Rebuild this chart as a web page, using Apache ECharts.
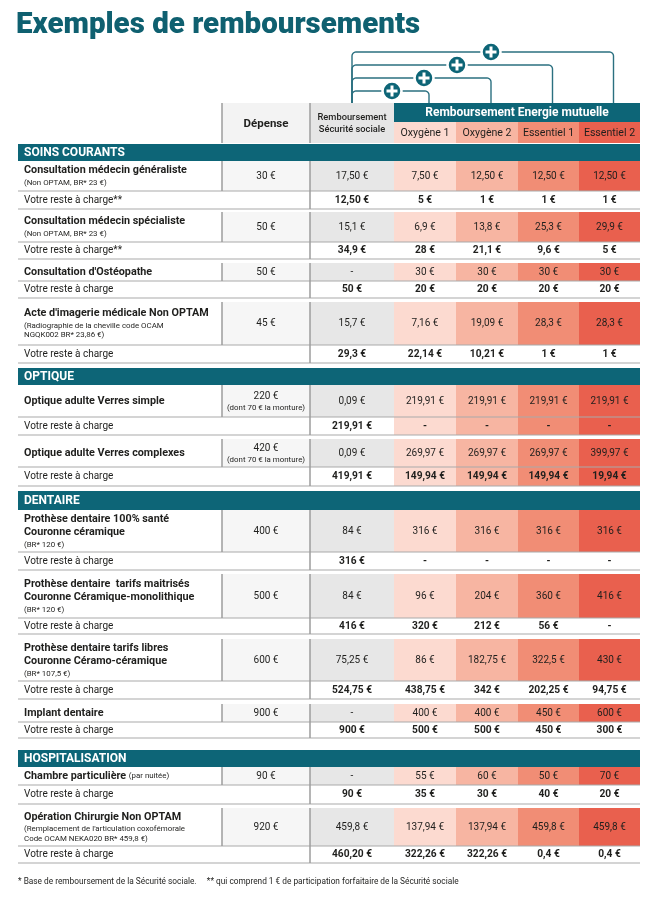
<!DOCTYPE html>
<html><head><meta charset="utf-8">
<script src="https://cdn.jsdelivr.net/npm/echarts@6/dist/echarts.min.js"></script>
<style>html,body{margin:0;padding:0;background:#fff}#c{width:646px;height:900px}</style>
</head><body><div id="c"></div>
<script>
// ---------------- DATA ----------------
const chartTitle = 'Exemples de remboursements';
const headerDepense = 'Dépense';
const headerSecu = ['Remboursement', 'Sécurité sociale'];
const headerMutuelle = 'Remboursement Energie mutuelle';
const planNames = ['Oxygène 1', 'Oxygène 2', 'Essentiel 1', 'Essentiel 2'];
const sectionNames = ['SOINS COURANTS', 'OPTIQUE', 'DENTAIRE', 'HOSPITALISATION'];
const rowSection = [0, 0, 0, 0, 1, 1, 2, 2, 2, 2, 3, 3];
const rowTitles = [
  ['Consultation médecin généraliste'],
  ['Consultation médecin spécialiste'],
  ["Consultation d'Ostéopathe"],
  ["Acte d'imagerie médicale Non OPTAM"],
  ['Optique adulte Verres simple'],
  ['Optique adulte Verres complexes'],
  ['Prothèse dentaire 100% santé', 'Couronne céramique'],
  ['Prothèse dentaire  tarifs maitrisés', 'Couronne Céramique-monolithique'],
  ['Prothèse dentaire tarifs libres', 'Couronne Céramo-céramique'],
  ['Implant dentaire'],
  ['Chambre particulière'],
  ['Opération Chirurgie Non OPTAM']
];
const rowInlineNotes = ['', '', '', '', '', '', '', '', '', '', '(par nuitée)', ''];
const rowNotes = [
  ['(Non OPTAM, BR* 23 €)'],
  ['(Non OPTAM, BR* 23 €)'],
  [],
  ['(Radiographie de la cheville code OCAM', 'NGQK002 BR* 23,86 €)'],
  [], [],
  ['(BR* 120 €)'],
  ['(BR* 120 €)'],
  ['(BR* 107,5 €)'],
  [], [],
  ["(Remplacement de l'articulation coxofémorale", 'Code OCAM NEKA020 BR* 459,8 €)']
];
const depense = ['30 €', '50 €', '50 €', '45 €', '220 €', '420 €', '400 €', '500 €', '600 €', '900 €', '90 €', '920 €'];
const depenseNotes = ['', '', '', '', '(dont 70 € la monture)', '(dont 70 € la monture)', '', '', '', '', '', ''];
const secu = ['17,50 €', '15,1 €', '-', '15,7 €', '0,09 €', '0,09 €', '84 €', '84 €', '75,25 €', '-', '-', '459,8 €'];
const oxygene1 = ['7,50 €', '6,9 €', '30 €', '7,16 €', '219,91 €', '269,97 €', '316 €', '96 €', '86 €', '400 €', '55 €', '137,94 €'];
const oxygene2 = ['12,50 €', '13,8 €', '30 €', '19,09 €', '219,91 €', '269,97 €', '316 €', '204 €', '182,75 €', '400 €', '60 €', '137,94 €'];
const essentiel1 = ['12,50 €', '25,3 €', '30 €', '28,3 €', '219,91 €', '269,97 €', '316 €', '360 €', '322,5 €', '450 €', '50 €', '459,8 €'];
const essentiel2 = ['12,50 €', '29,9 €', '30 €', '28,3 €', '219,91 €', '399,97 €', '316 €', '416 €', '430 €', '600 €', '70 €', '459,8 €'];
const resteLabels = ['Votre reste à charge**', 'Votre reste à charge**', 'Votre reste à charge', 'Votre reste à charge',
  'Votre reste à charge', 'Votre reste à charge', 'Votre reste à charge', 'Votre reste à charge',
  'Votre reste à charge', 'Votre reste à charge', 'Votre reste à charge', 'Votre reste à charge'];
const resteSecu = ['12,50 €', '34,9 €', '50 €', '29,3 €', '219,91 €', '419,91 €', '316 €', '416 €', '524,75 €', '900 €', '90 €', '460,20 €'];
const resteOxygene1 = ['5 €', '28 €', '20 €', '22,14 €', '-', '149,94 €', '-', '320 €', '438,75 €', '500 €', '35 €', '322,26 €'];
const resteOxygene2 = ['1 €', '21,1 €', '20 €', '10,21 €', '-', '149,94 €', '-', '212 €', '342 €', '500 €', '30 €', '322,26 €'];
const resteEssentiel1 = ['1 €', '9,6 €', '20 €', '1 €', '-', '149,94 €', '-', '56 €', '202,25 €', '450 €', '40 €', '0,4 €'];
const resteEssentiel2 = ['1 €', '5 €', '20 €', '1 €', '-', '19,94 €', '-', '-', '94,75 €', '300 €', '20 €', '0,4 €'];
const footnote = '* Base de remboursement de la Sécurité sociale.     ** qui comprend 1 € de participation forfaitaire de la Sécurité sociale';

// ---------------- LAYOUT / STYLE ----------------
const F = 'Roboto, "Noto Sans", sans-serif';
const TEAL = '#0d6577';
const TITLE = '#0f6070';
const DARK = '#1f1f1d';
const GRID = '#a9a9a9';
const VGRID = '#9d9d9d';
const PLAN_FILL = ['#fcdad0', '#f7b5a2', '#f18d75', '#e9604e'];
const SECU_FILL = '#e7e7e7';
const DEP_FILL = '#f6f6f6';
const XL = 18, XDEP = 222, XSECU = 310, XR = 640;
const XPLAN = [394, 456, 518, 579, 640];
const sectionTop = [144, 368, 491, 750];
const mainTop = [161, 212, 263, 302, 385, 439, 510, 574, 639, 704, 767, 808];
const mainH = [30, 30, 18, 43, 32, 28, 42, 44, 42, 18, 18, 38];
const resteH = [18, 17, 17, 18, 18, 19, 18, 16, 18, 16, 19, 17];
const colouredResteSections = [1];
const bracketY = [91, 78, 65, 52];
const bracketCircleX = [392, 424, 457, 491];
const bracketLeft = 352;
const FS_LABEL = 10.8, FS_NOTE = 7.9, FS_VAL = 10, FS_RESTE = 10.2;

const els = [];
function rect(x, y, w, h, fill, z) { els.push({ type: 'rect', silent: true, z: z || 1, shape: { x, y, width: w, height: h }, style: { fill } }); }
function line(x1, y1, x2, y2, stroke, lw, z) { els.push({ type: 'line', silent: true, z: z || 3, shape: { x1, y1, x2, y2 }, style: { stroke, lineWidth: lw } }); }
function text(x, y, t, size, weight, fill, align, z, extra) {
  const st = Object.assign({ x, y, text: t, fontSize: size, fontWeight: weight, fontFamily: F, fill,
    align: align || 'center', verticalAlign: 'middle', textAlign: align || 'center', textVerticalAlign: 'middle' }, extra || {});
  els.push({ type: 'text', silent: true, z: z || 5, style: st });
}

// Title
text(16, 25.5, chartTitle, 29.5, 900, TITLE, 'left');

// Brackets
const planCenters = [0, 1, 2, 3].map(k => (XPLAN[k] + XPLAN[k + 1]) / 2);
function corner(cx, cy, r, a0, a1) {
  const pts = [];
  for (let s = 0; s <= 6; s++) { const a = a0 + (a1 - a0) * s / 6; pts.push([cx + r * Math.cos(a), cy + r * Math.sin(a)]); }
  return pts;
}
for (let k = 0; k < 4; k++) {
  const y = bracketY[k], rx = planCenters[k] + 4, lx = bracketLeft, r = 4, yb = 103;
  let pts = [[lx, yb]];
  pts = pts.concat(corner(lx + r, y + r, r, Math.PI, 1.5 * Math.PI));
  pts = pts.concat(corner(rx - r, y + r, r, 1.5 * Math.PI, 2 * Math.PI));
  pts.push([rx, yb]);
  els.push({ type: 'polyline', silent: true, z: 2, shape: { points: pts }, style: { stroke: '#2b7080', lineWidth: 1.4, fill: null } });
  const cx = bracketCircleX[k];
  els.push({ type: 'circle', silent: true, z: 4, shape: { cx, cy: y, r: 9.5 }, style: { fill: TEAL, stroke: '#fff', lineWidth: 2.5 } });
  rect(cx - 5.5, y - 1.5, 11, 3, '#fff', 6);
  rect(cx - 1.5, y - 5.5, 3, 11, '#fff', 6);
}

// Header
rect(XDEP, 103, XSECU - XDEP, 40, '#f3f3f3');
rect(XSECU, 103, XPLAN[0] - XSECU, 40, '#e6e6e6');
rect(XPLAN[0], 103, XR - XPLAN[0], 19, TEAL);
for (let k = 0; k < 4; k++) {
  rect(XPLAN[k], 122, XPLAN[k + 1] - XPLAN[k], 21, PLAN_FILL[k]);
  text(planCenters[k], 133, planNames[k], 10.6, 'normal', DARK);
}
line(XDEP, 103, XDEP, 143, VGRID, 1.5);
line(XSECU, 103, XSECU, 143, VGRID, 1.5);
text((XDEP + XSECU) / 2, 124.5, headerDepense, 11.5, 'bold', DARK);
text((XSECU + XPLAN[0]) / 2, 118, headerSecu[0], 9.3, 500, DARK);
text((XSECU + XPLAN[0]) / 2, 129.5, headerSecu[1], 9.3, 500, DARK);
text((XPLAN[0] + XR) / 2, 113, headerMutuelle, 12, 'bold', '#fff');

// Sections
for (let s = 0; s < sectionNames.length; s++) {
  const first = rowSection.indexOf(s);
  const top = sectionTop[s], h = mainTop[first] - top;
  rect(XL, top, XR - XL, h, TEAL, 2);
  text(24, top + h / 2 + 0.5, sectionNames[s], 12, 'bold', '#fff', 'left');
}

// Rows
const planVals = [oxygene1, oxygene2, essentiel1, essentiel2];
const planReste = [resteOxygene1, resteOxygene2, resteEssentiel1, resteEssentiel2];
for (let i = 0; i < rowTitles.length; i++) {
  const mt = mainTop[i], mh = mainH[i], rt = mt + mh, rh = resteH[i];
  const mc = mt + mh / 2, rc = rt + rh / 2;
  rect(XDEP, mt, XSECU - XDEP, mh, DEP_FILL);
  rect(XSECU, mt, XPLAN[0] - XSECU, mh, SECU_FILL);
  const colReste = colouredResteSections.indexOf(rowSection[i]) >= 0;
  for (let k = 0; k < 4; k++) {
    rect(XPLAN[k], mt, XPLAN[k + 1] - XPLAN[k], mh, PLAN_FILL[k]);
    if (colReste) rect(XPLAN[k], rt, XPLAN[k + 1] - XPLAN[k], rh, PLAN_FILL[k]);
  }
  line(XL, rt, XR, rt, GRID, 1.2);
  line(XL, rt + rh, XR, rt + rh, GRID, 1.2);
  line(XDEP, mt, XDEP, rt, VGRID, 1.5);
  line(XSECU, mt, XSECU, rt + rh, VGRID, 1.5);

  const nb = rowTitles[i].length, nn = rowNotes[i].length;
  const blockH = nb * 13.5 + nn * 9.5 + (nn ? 1 : 0);
  let y = mc - blockH / 2;
  rowTitles[i].forEach((t, j) => {
    if (rowInlineNotes[i] && j === 0) {
      text(24, y + 6.75, '{b|' + t + '} {s|' + rowInlineNotes[i] + '}', FS_LABEL, 'bold', DARK, 'left', 5,
        { rich: { b: { fontSize: FS_LABEL, fontWeight: 'bold', fontFamily: F, fill: DARK }, s: { fontSize: FS_NOTE, fontWeight: 'normal', fontFamily: F, fill: DARK } } });
    } else {
      text(24, y + 6.75, t, FS_LABEL, 'bold', DARK, 'left');
    }
    y += 13.5;
  });
  if (nn) y += 1;
  rowNotes[i].forEach(t => { text(24, y + 4.75, t, FS_NOTE, 'normal', DARK, 'left'); y += 9.5; });

  const dx = (XDEP + XSECU) / 2;
  if (depenseNotes[i]) {
    text(dx, mc - 4.5, depense[i], FS_VAL, 'normal', DARK);
    text(dx, mc + 6.8, depenseNotes[i], FS_NOTE, 'normal', DARK);
  } else {
    text(dx, mc, depense[i], FS_VAL, 'normal', DARK);
  }
  text((XSECU + XPLAN[0]) / 2, mc, secu[i], FS_VAL, 'normal', DARK);
  for (let k = 0; k < 4; k++) text(planCenters[k], mc, planVals[k][i], FS_VAL, 'normal', DARK);

  text(24, rc, resteLabels[i], 10, 'normal', DARK, 'left');
  text((XSECU + XPLAN[0]) / 2, rc, resteSecu[i], FS_RESTE, 'bold', DARK);
  for (let k = 0; k < 4; k++) text(planCenters[k], rc, planReste[k][i], FS_RESTE, 'bold', DARK);
}

text(18, 882, footnote, 8.3, 'normal', DARK, 'left');

const chart = echarts.init(document.getElementById('c'), null, { renderer: 'canvas' });
chart.setOption({ animation: false, graphic: { elements: els } });
</script>
</body></html>
